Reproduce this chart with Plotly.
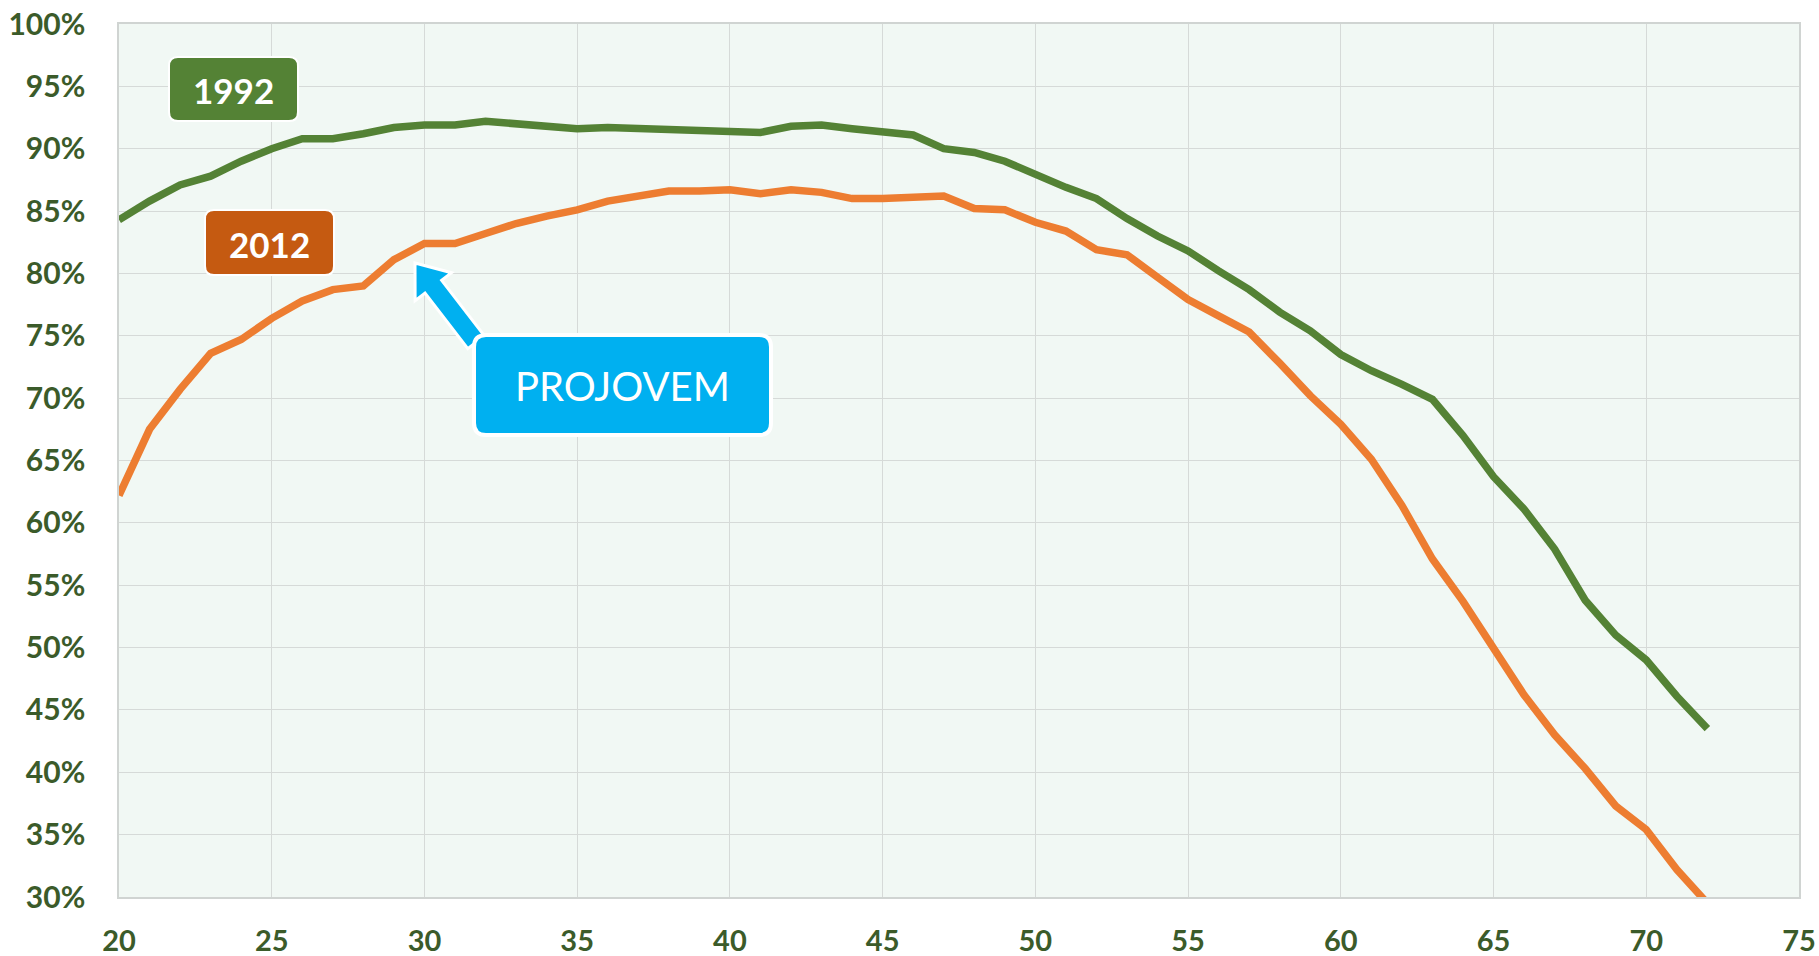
import plotly.graph_objects as go

ages = list(range(20, 73))
rate_1992 = [84.3, 85.8, 87.1, 87.8, 89.0, 90.0, 90.8, 90.8, 91.2, 91.7,
             91.9, 91.9, 92.2, 92.0, 91.8, 91.6, 91.7, 91.6, 91.5, 91.4,
             91.3, 91.3, 91.8, 91.9, 91.6, 91.3, 91.1, 90.0, 89.7, 89.0,
             87.9, 86.9, 86.0, 84.4, 83.0, 81.8, 80.2, 78.7, 76.9, 75.4,
             73.5, 72.2, 71.1, 69.9, 67.0, 63.7, 61.1, 57.9, 53.8, 51.0,
             49.0, 46.1, 43.5]
rate_2012 = [62.2, 67.5, 70.7, 73.6, 74.7, 76.4, 77.8, 78.7, 79.0, 81.1,
             82.4, 82.4, 83.2, 84.0, 84.6, 85.1, 85.8, 86.2, 86.6, 86.6,
             86.7, 86.4, 86.7, 86.5, 86.0, 86.0, 86.1, 86.2, 85.2, 85.1,
             84.1, 83.4, 81.9, 81.5, 79.7, 77.9, 76.6, 75.3, 72.8, 70.2,
             67.9, 65.1, 61.4, 57.1, 53.7, 49.9, 46.2, 43.0, 40.3, 37.3,
             35.4, 32.2, 29.5]
x_ticks = list(range(20, 80, 5))
y_ticks = list(range(30, 105, 5))
series_labels = ["1992", "2012"]
callout_text = "PROJOVEM"

W, H = 1819, 956
ML, MR, MT, MB = 119, 20, 24, 59
XR = (20, 75)
YR = (30, 100)
PW, PH = W - ML - MR, H - MT - MB

GREEN = "#548235"
ORANGE = "#ED7D31"
GREEN_BOX = "#548235"
ORANGE_BOX = "#C55A11"
BLUE = "#00B0F0"
TICK_COLOR = "#3B5B2A"
FONT = "Lato"


def px2x(px):
    return XR[0] + (px - ML) / PW * (XR[1] - XR[0])


def px2y(py):
    return YR[1] - (py - MT) / PH * (YR[1] - YR[0])


def to_path(cmds):
    parts = []
    for p in cmds:
        cmd = p[0]
        coords = p[1:]
        cs = []
        for i in range(0, len(coords), 2):
            cs.append(f"{px2x(coords[i]):.5f},{px2y(coords[i+1]):.5f}")
        parts.append(cmd + " ".join(cs))
    return " ".join(parts) + " Z"


def rounded_rect(x0, y0, x1, y1, r):
    return to_path([
        ("M", x0 + r, y0), ("L", x1 - r, y0), ("Q", x1, y0, x1, y0 + r),
        ("L", x1, y1 - r), ("Q", x1, y1, x1 - r, y1), ("L", x0 + r, y1),
        ("Q", x0, y1, x0, y1 - r), ("L", x0, y0 + r), ("Q", x0, y0, x0 + r, y0),
    ])


def arrow_path(tip, direction, head_len, head_half, shaft_half, shaft_len):
    tx, ty = tip
    dx, dy = direction
    n = (dx * dx + dy * dy) ** 0.5
    dx, dy = dx / n, dy / n
    nx, ny = dy, -dx
    bx, by = tx + head_len * dx, ty + head_len * dy
    ex, ey = bx + shaft_len * dx, by + shaft_len * dy
    return to_path([
        ("M", tx, ty),
        ("L", bx + head_half * nx, by + head_half * ny),
        ("L", bx + shaft_half * nx, by + shaft_half * ny),
        ("L", ex + shaft_half * nx, ey + shaft_half * ny),
        ("L", ex - shaft_half * nx, ey - shaft_half * ny),
        ("L", bx - shaft_half * nx, by - shaft_half * ny),
        ("L", bx - head_half * nx, by - head_half * ny),
    ])


fig = go.Figure()
fig.add_trace(go.Scatter(x=ages, y=rate_1992, mode="lines", name="1992",
                         line=dict(color=GREEN, width=7.5)))
fig.add_trace(go.Scatter(x=ages, y=rate_2012, mode="lines", name="2012",
                         line=dict(color=ORANGE, width=7.5)))

shapes = []
annotations = []

boxes = [
    ((169, 57, 298, 121), GREEN_BOX, series_labels[0]),
    ((205, 210, 334, 275), ORANGE_BOX, series_labels[1]),
]
for (x0, y0, x1, y1), col, txt in boxes:
    shapes.append(dict(type="path", path=rounded_rect(x0, y0, x1, y1, 9),
                       xref="x", yref="y", fillcolor=col,
                       line=dict(color="white", width=2), layer="above"))
    annotations.append(dict(x=px2x((x0 + x1) / 2), y=px2y((y0 + y1) / 2 + 1),
                            xref="x", yref="y", text=f"<b>{txt}</b>",
                            showarrow=False,
                            font=dict(family=FONT, size=35, color="white")))

# callout arrow (blue with white outline)
shapes.append(dict(type="path",
                   path=arrow_path((415, 263), (0.61, 0.79), 30, 23, 10.5, 70),
                   xref="x", yref="y", fillcolor=BLUE,
                   line=dict(color="white", width=3), layer="above"))

bx0, by0, bx1, by1 = 474, 335, 771, 435
shapes.append(dict(type="path", path=rounded_rect(bx0, by0, bx1, by1, 12),
                   xref="x", yref="y", fillcolor=BLUE,
                   line=dict(color="white", width=4), layer="above"))
annotations.append(dict(x=px2x((bx0 + bx1) / 2), y=px2y((by0 + by1) / 2 + 1),
                        xref="x", yref="y", text=callout_text, showarrow=False,
                        font=dict(family=FONT, size=40, color="white")))

fig.update_layout(
    width=W, height=H,
    margin=dict(l=ML, r=MR, t=MT, b=MB, pad=0, autoexpand=False),
    paper_bgcolor="white",
    plot_bgcolor="#F1F8F4",
    showlegend=False,
    shapes=shapes,
    annotations=annotations,
    font=dict(family=FONT),
)
fig.update_xaxes(range=list(XR), tickvals=x_ticks, ticktext=[str(v) for v in x_ticks],
                 showgrid=True, gridcolor="#D6DAD8", gridwidth=1,
                 showline=True, linecolor="#D0D4D2", linewidth=1.5, mirror=True,
                 zeroline=False, ticks="", ticklabelstandoff=17, automargin=False,
                 ticklabeloverflow="allow",
                 tickfont=dict(family=FONT, size=29, color=TICK_COLOR, weight="bold"))
fig.update_yaxes(range=list(YR), tickvals=y_ticks, ticktext=[f"{v}%" for v in y_ticks],
                 showgrid=True, gridcolor="#D6DAD8", gridwidth=1,
                 showline=True, linecolor="#D0D4D2", linewidth=1.5, mirror=True,
                 zeroline=False, ticks="", ticklabelstandoff=26, automargin=False,
                 ticklabeloverflow="allow",
                 tickfont=dict(family=FONT, size=30, color=TICK_COLOR, weight="bold"))

fig.write_html(
    "out.html",
    config={"displayModeBar": False},
    post_script="document.body.style.margin='0';document.body.style.overflow='hidden';",
)
